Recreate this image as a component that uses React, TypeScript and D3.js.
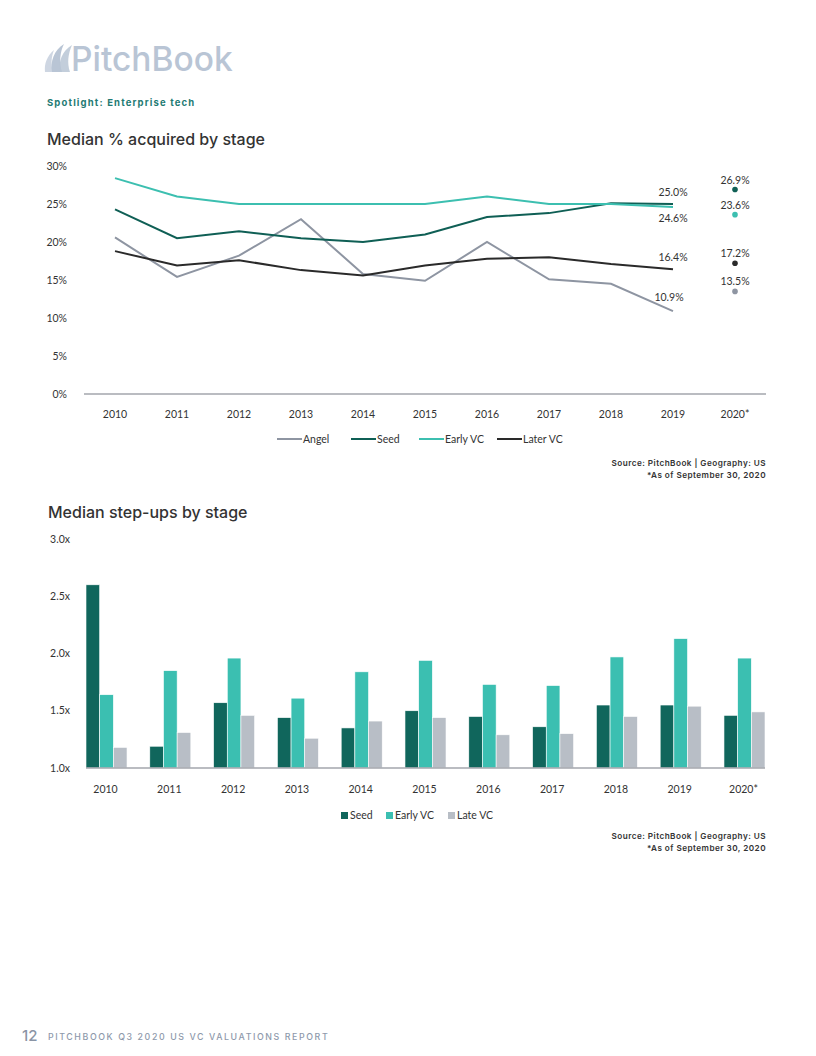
import React from "react";
import * as d3 from "d3";

const years = ["2010", "2011", "2012", "2013", "2014", "2015", "2016", "2017", "2018", "2019", "2020*"];
const lineYears = years.slice(0, 10);

const angel = [20.6, 15.4, 18.2, 23.0, 15.8, 14.9, 20.0, 15.1, 14.5, 10.9];
const seed = [24.3, 20.5, 21.4, 20.5, 20.0, 21.0, 23.3, 23.8, 25.1, 25.0];
const earlyVC = [28.4, 26.0, 25.0, 25.0, 25.0, 25.0, 26.0, 25.0, 25.0, 24.6];
const laterVC = [18.8, 16.9, 17.6, 16.3, 15.6, 16.9, 17.8, 18.0, 17.1, 16.4];
const points2020 = { angel: 13.5, seed: 26.9, earlyVC: 23.6, laterVC: 17.2 };

const pctTicks = [0, 5, 10, 15, 20, 25, 30];

const barSeed = [2.6, 1.19, 1.57, 1.44, 1.35, 1.5, 1.45, 1.36, 1.55, 1.55, 1.46];
const barEarly = [1.64, 1.85, 1.96, 1.61, 1.84, 1.94, 1.73, 1.72, 1.97, 2.13, 1.96];
const barLate = [1.18, 1.31, 1.46, 1.26, 1.41, 1.44, 1.29, 1.3, 1.45, 1.54, 1.49];
const stepTicks = [1.0, 1.5, 2.0, 2.5, 3.0];

const C = {
  angel: "#8e95a2",
  seed: "#0f5f55",
  early: "#3cbfb0",
  later: "#2a2a2a",
  barSeed: "#10665c",
  barEarly: "#3bbfb1",
  barLate: "#b8bec6",
  axis: "#a3a6ad",
  text: "#333333",
};

const tickFont = "Lato, 'Open Sans', sans-serif";
const headFont = "Inter, 'Open Sans', sans-serif";

export default function App() {
  const x1 = d3.scaleBand<string>().domain(years).range([84, 766]).padding(0);
  const cx = (y: string) => (x1(y) as number) + x1.bandwidth() / 2;
  const y1 = d3.scaleLinear().domain([0, 30]).range([394, 166]);

  const lineGen = d3
    .line<number>()
    .x((_, i) => cx(lineYears[i]))
    .y((d) => y1(d));

  const series = [
    { name: "Angel", data: angel, color: C.angel, p: points2020.angel },
    { name: "Seed", data: seed, color: C.seed, p: points2020.seed },
    { name: "Early VC", data: earlyVC, color: C.early, p: points2020.earlyVC },
    { name: "Later VC", data: laterVC, color: C.later, p: points2020.laterVC },
  ];

  const x2 = d3.scaleBand<string>().domain(years).range([86, 765]).paddingInner(0.357).paddingOuter(0);
  const sub = d3.scaleBand<string>().domain(["seed", "early", "late"]).range([0, x2.bandwidth()]).padding(0);
  const y2 = d3.scaleLinear().domain([1, 3]).range([768, 539]);

  const barSeries = [
    { key: "seed", data: barSeed, color: C.barSeed },
    { key: "early", data: barEarly, color: C.barEarly },
    { key: "late", data: barLate, color: C.barLate },
  ];

  const i19 = 9;
  const x19 = cx(lineYears[i19]);
  const x20 = cx(years[10]);

  const lineLegend = [
    { name: "Angel", color: C.angel, x: 277 },
    { name: "Seed", color: C.seed, x: 351 },
    { name: "Early VC", color: C.early, x: 419 },
    { name: "Later VC", color: C.later, x: 497 },
  ];
  const barLegend = [
    { name: "Seed", color: C.barSeed, x: 341 },
    { name: "Early VC", color: C.barEarly, x: 386 },
    { name: "Late VC", color: C.barLate, x: 448 },
  ];

  const srcStyle = { fontFamily: headFont, fontSize: 8.2, fontWeight: 600, fill: C.text, letterSpacing: 0.45 };

  return (
    <svg width={816} height={1056} style={{ position: "absolute", left: 0, top: 0, background: "#fff" }}>
      <g fill="#b9c5d5">
        <path d="M52,72 C50,62 54,50 64,44 C60,52 59,62 62,72 Z" />
        <path d="M60,72 C58,62 62,51 72,45 C68,54 67,63 70,72 Z" opacity="0.85" />
        <path d="M45,72 C44,64 47,56 54,50 C51,57 51,65 53,72 Z" opacity="0.7" />
      </g>
      <text x={71} y={71} fontFamily={headFont} fontSize={33.5} fill="#b9c5d5" fontWeight={500}>
        PitchBook
      </text>

      <text x={47} y={106} fontFamily={headFont} fontSize={9.5} fontWeight={700} fill="#1f7b74" letterSpacing={1.15}>
        Spotlight: Enterprise tech
      </text>

      <text x={47} y={145} fontFamily={headFont} fontSize={16} fontWeight={500} fill={C.text}>
        Median % acquired by stage
      </text>
      {pctTicks.map((t) => (
        <text key={t} x={67} y={y1(t)} dy="0.35em" textAnchor="end" fontFamily={tickFont} fontSize={10.5} fill={C.text}>
          {t}%
        </text>
      ))}
      <line x1={84} x2={766} y1={394} y2={394} stroke={C.axis} strokeWidth={1.5} />
      {years.map((y) => (
        <text key={y} x={cx(y)} y={414} dy="0.35em" textAnchor="middle" fontFamily={tickFont} fontSize={10.5} fill={C.text}>
          {y}
        </text>
      ))}
      {series.map((s) => (
        <path key={s.name} d={lineGen(s.data) as string} fill="none" stroke={s.color} strokeWidth={2} />
      ))}
      {series.map((s) => (
        <circle key={s.name} cx={x20} cy={y1(s.p)} r={2.8} fill={s.color} />
      ))}
      <text x={x19} y={y1(seed[i19]) - 8} textAnchor="middle" fontFamily={tickFont} fontSize={10.5} fill={C.text}>
        {seed[i19].toFixed(1)}%
      </text>
      <text x={x19} y={y1(earlyVC[i19]) + 15} textAnchor="middle" fontFamily={tickFont} fontSize={10.5} fill={C.text}>
        {earlyVC[i19].toFixed(1)}%
      </text>
      <text x={x19} y={y1(laterVC[i19]) - 8} textAnchor="middle" fontFamily={tickFont} fontSize={10.5} fill={C.text}>
        {laterVC[i19].toFixed(1)}%
      </text>
      <text x={x19 - 4} y={y1(angel[i19]) - 10} textAnchor="middle" fontFamily={tickFont} fontSize={10.5} fill={C.text}>
        {angel[i19].toFixed(1)}%
      </text>
      {series.map((s) => (
        <text key={s.name} x={x20} y={y1(s.p) - 6} textAnchor="middle" fontFamily={tickFont} fontSize={10.5} fill={C.text}>
          {s.p.toFixed(1)}%
        </text>
      ))}
      {lineLegend.map((l) => (
        <g key={l.name}>
          <line x1={l.x} x2={l.x + 25} y1={439} y2={439} stroke={l.color} strokeWidth={2} />
          <text x={l.x + 26} y={439} dy="0.35em" fontFamily={tickFont} fontSize={10.5} fill={C.text}>
            {l.name}
          </text>
        </g>
      ))}
      <text x={766} y={466} textAnchor="end" {...srcStyle}>
        Source: PitchBook | Geography: US
      </text>
      <text x={766} y={478} textAnchor="end" {...srcStyle}>
        *As of September 30, 2020
      </text>

      <text x={48} y={518} fontFamily={headFont} fontSize={16} fontWeight={500} fill={C.text}>
        Median step-ups by stage
      </text>
      {stepTicks.map((t) => (
        <text key={t} x={70} y={y2(t)} dy="0.35em" textAnchor="end" fontFamily={tickFont} fontSize={10.5} fill={C.text}>
          {t.toFixed(1)}x
        </text>
      ))}
      {barSeries.map((s) =>
        s.data.map((v, i) => (
          <rect
            key={s.key + i}
            x={(x2(years[i]) as number) + (sub(s.key) as number)}
            y={y2(v)}
            width={sub.bandwidth()}
            height={y2(1) - y2(v)}
            fill={s.color}
            stroke="#ffffff"
            strokeWidth={0.6}
          />
        ))
      )}
      <line x1={86} x2={765} y1={768} y2={768} stroke={C.axis} strokeWidth={1.5} />
      {years.map((y) => (
        <text
          key={y}
          x={(x2(y) as number) + x2.bandwidth() / 2 - 1}
          y={789}
          dy="0.35em"
          textAnchor="middle"
          fontFamily={tickFont}
          fontSize={10.5}
          fill={C.text}
        >
          {y}
        </text>
      ))}
      {barLegend.map((l) => (
        <g key={l.name}>
          <rect x={l.x} y={812} width={7} height={7} fill={l.color} />
          <text x={l.x + 9} y={815.5} dy="0.35em" fontFamily={tickFont} fontSize={10.5} fill={C.text}>
            {l.name}
          </text>
        </g>
      ))}
      <text x={766} y={839} textAnchor="end" {...srcStyle}>
        Source: PitchBook | Geography: US
      </text>
      <text x={766} y={851} textAnchor="end" {...srcStyle}>
        *As of September 30, 2020
      </text>

      <text x={22} y={1041} fontFamily={headFont} fontSize={15} fontWeight={500} fill="#8a94a5">
        12
      </text>
      <text x={48} y={1040} fontFamily={headFont} fontSize={8.8} fontWeight={500} fill="#8e99ab" letterSpacing={1.6}>
        PITCHBOOK Q3 2020 US VC VALUATIONS REPORT
      </text>
    </svg>
  );
}
